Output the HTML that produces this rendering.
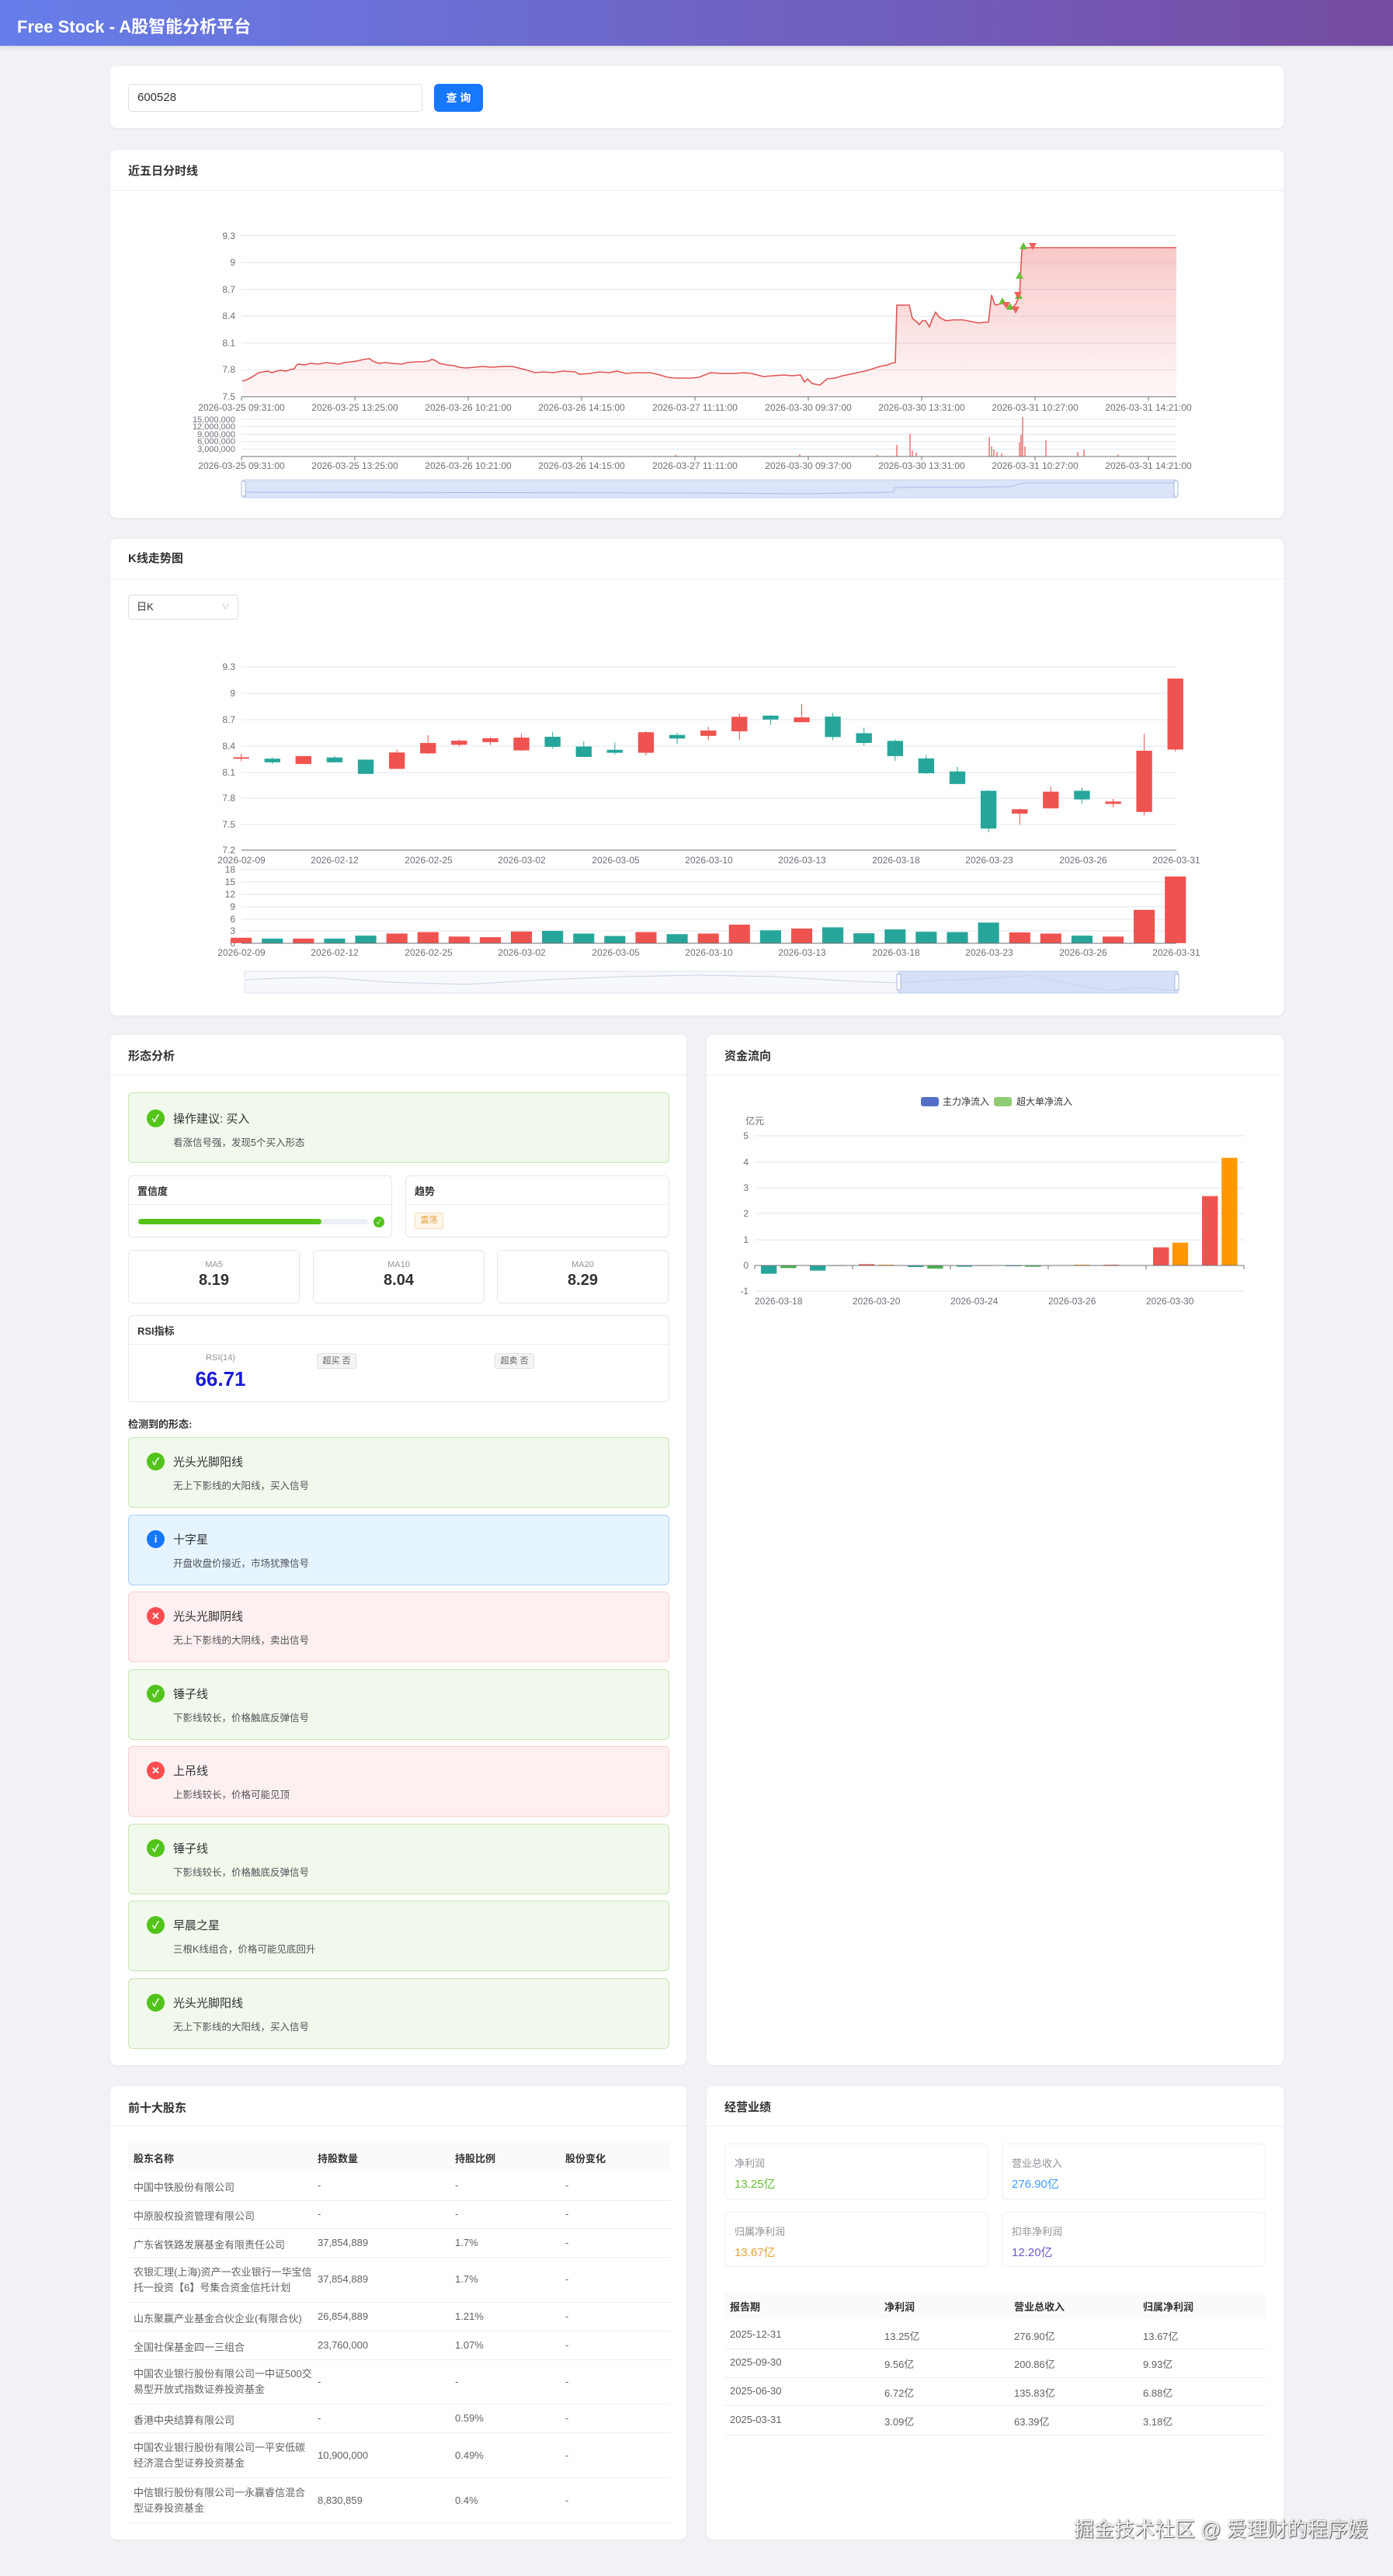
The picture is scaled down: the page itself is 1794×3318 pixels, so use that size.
<!DOCTYPE html>
<html><head><meta charset="utf-8">
<style>
*{box-sizing:border-box;margin:0;padding:0}
body{width:1794px;height:3318px;background:#f0f2f5;position:relative;overflow:hidden;font-family:"Liberation Sans","Noto Sans CJK SC",sans-serif;color:#303133}
.a{position:absolute}
.card{position:absolute;background:#fff;border-radius:8px;box-shadow:0 1px 4px rgba(0,0,0,.05)}
.ct{position:absolute;left:23px;font-size:15px;font-weight:bold;color:#303133}
.dv{position:absolute;left:0;right:0;height:1px;background:#ebeef5}
.box{position:absolute;border:1px solid #e4e7ed;border-radius:6px;background:#fff}
.pat{position:absolute;left:165px;width:697px;height:91px;border-radius:6px;border:1px solid}
.pg{background:#f0f9eb;border-color:#c8e6b4}
.pb{background:#e6f4ff;border-color:#a9d2f7}
.pr{background:#fef0f0;border-color:#f8cfcf}
.ic{position:absolute;left:23px;top:19px;width:23px;height:23px;border-radius:50%;color:#fff;font-size:13px;font-weight:bold;text-align:center;line-height:23px}
.pt{position:absolute;left:57px;top:20px;font-size:15px;color:#303133}
.pd{position:absolute;left:57px;top:51px;font-size:12.5px;color:#505358}
.tb{position:absolute;font-size:13px;color:#606266}
.th{font-weight:bold;color:#303133}
</style></head><body>
<div class="a" style="left:0;top:0;width:1794px;height:59px;background:linear-gradient(90deg,#667eea,#764ba2);box-shadow:0 2px 6px rgba(0,0,0,.12)"></div>
<div class="a" style="left:22px;top:17px;font-size:22px;font-weight:bold;color:#fff">Free Stock - A股智能分析平台</div>

<div class="card" style="left:142px;top:85px;width:1511px;height:80px"></div>
<div class="a" style="left:165px;top:108px;width:379px;height:36px;border:1px solid #dcdfe6;border-radius:5px;font-size:15px;line-height:34px;padding-left:11px;color:#303133">600528</div>
<div class="a" style="left:559px;top:108px;width:63px;height:36px;background:#1677ff;border-radius:6px;color:#fff;font-size:14px;font-weight:bold;text-align:center;line-height:36px">查 询</div>

<div class="card" style="left:142px;top:193px;width:1511px;height:474px"><div class="ct" style="top:16px">近五日分时线</div><div class="dv" style="top:52px"></div></div>
<div class="card" style="left:142px;top:694px;width:1511px;height:614px"><div class="ct" style="top:14px">K线走势图</div><div class="dv" style="top:51px"></div></div>
<div class="a" style="left:165px;top:766px;width:142px;height:32px;border:1px solid #dcdfe6;border-radius:4px;font-size:13px;line-height:30px;padding-left:10px;color:#303133">日K<span style="position:absolute;right:10px;color:#c0c4cc;font-size:11px">∨</span></div>

<div class="card" style="left:142px;top:1333px;width:742px;height:1327px"><div class="ct" style="top:16px">形态分析</div><div class="dv" style="top:51px"></div></div>
<div class="card" style="left:910px;top:1333px;width:743px;height:1327px"><div class="ct" style="top:16px">资金流向</div><div class="dv" style="top:51px"></div></div>

<div class="pat pg" style="top:1407px;height:91px"><div class="ic" style="background:#52c41a;top:21px">✓</div><div class="pt" style="top:22px">操作建议: 买入</div><div class="pd" style="top:53px">看涨信号强，发现5个买入形态</div></div>
<div class="box" style="left:165px;top:1514px;width:340px;height:80px"><div class="a th" style="left:11px;top:9px;font-size:13px">置信度</div><div class="a" style="left:0;right:0;top:36px;height:1px;background:#ebeef5"></div>
<div class="a" style="left:12px;top:55px;width:296px;height:7px;border-radius:4px;background:#ebeef5"></div><div class="a" style="left:12px;top:55px;width:236px;height:7px;border-radius:4px;background:#52c41a"></div><div class="a" style="left:315px;top:52px;width:14px;height:14px;border-radius:50%;background:#52c41a;color:#fff;font-size:9px;text-align:center;line-height:14px">✓</div></div>
<div class="box" style="left:522px;top:1514px;width:340px;height:80px"><div class="a th" style="left:11px;top:9px;font-size:13px">趋势</div><div class="a" style="left:0;right:0;top:36px;height:1px;background:#ebeef5"></div>
<div class="a" style="left:11px;top:47px;width:37px;height:21px;border:1px solid #f5dab1;background:#fdf6ec;border-radius:3px;color:#e6a23c;font-size:11px;text-align:center;line-height:19px">震荡</div></div>
<div class="box" style="left:165px;top:1610px;width:221px;height:69px;text-align:center"><div style="margin-top:12px;font-size:11px;color:#909399">MA5</div><div style="font-size:20px;font-weight:bold;margin-top:3px">8.19</div></div>
<div class="box" style="left:403px;top:1610px;width:221px;height:69px;text-align:center"><div style="margin-top:12px;font-size:11px;color:#909399">MA10</div><div style="font-size:20px;font-weight:bold;margin-top:3px">8.04</div></div>
<div class="box" style="left:640px;top:1610px;width:221px;height:69px;text-align:center"><div style="margin-top:12px;font-size:11px;color:#909399">MA20</div><div style="font-size:20px;font-weight:bold;margin-top:3px">8.29</div></div>
<div class="box" style="left:165px;top:1694px;width:697px;height:112px"><div class="a th" style="left:11px;top:9px;font-size:13px">RSI指标</div><div class="a" style="left:0;right:0;top:36px;height:1px;background:#ebeef5"></div>
<div class="a" style="left:78px;width:80px;top:48px;text-align:center;font-size:11px;color:#909399">RSI(14)</div><div class="a" style="left:68px;width:100px;top:66px;text-align:center;font-size:26px;font-weight:bold;color:#1a1ad6">66.71</div>
<div class="a" style="left:242px;top:48px;width:51px;height:20px;border:1px solid #dcdfe6;background:#f4f4f5;border-radius:3px;font-size:11px;color:#606266;text-align:center;line-height:18px">超买 否</div>
<div class="a" style="left:471px;top:48px;width:51px;height:20px;border:1px solid #dcdfe6;background:#f4f4f5;border-radius:3px;font-size:11px;color:#606266;text-align:center;line-height:18px">超卖 否</div></div>
<div class="a th" style="left:165px;top:1824px;font-size:13px">检测到的形态:</div>

<div class="pat pg" style="top:1851px"><div class="ic" style="background:#52c41a">✓</div><div class="pt">光头光脚阳线</div><div class="pd">无上下影线的大阳线，买入信号</div></div>
<div class="pat pb" style="top:1951px"><div class="ic" style="background:#1677ff">i</div><div class="pt">十字星</div><div class="pd">开盘收盘价接近，市场犹豫信号</div></div>
<div class="pat pr" style="top:2050px"><div class="ic" style="background:#ff4d4f">✕</div><div class="pt">光头光脚阴线</div><div class="pd">无上下影线的大阴线，卖出信号</div></div>
<div class="pat pg" style="top:2150px"><div class="ic" style="background:#52c41a">✓</div><div class="pt">锤子线</div><div class="pd">下影线较长，价格触底反弹信号</div></div>
<div class="pat pr" style="top:2249px"><div class="ic" style="background:#ff4d4f">✕</div><div class="pt">上吊线</div><div class="pd">上影线较长，价格可能见顶</div></div>
<div class="pat pg" style="top:2349px"><div class="ic" style="background:#52c41a">✓</div><div class="pt">锤子线</div><div class="pd">下影线较长，价格触底反弹信号</div></div>
<div class="pat pg" style="top:2448px"><div class="ic" style="background:#52c41a">✓</div><div class="pt">早晨之星</div><div class="pd">三根K线组合，价格可能见底回升</div></div>
<div class="pat pg" style="top:2548px"><div class="ic" style="background:#52c41a">✓</div><div class="pt">光头光脚阳线</div><div class="pd">无上下影线的大阳线，买入信号</div></div>

<div class="card" style="left:142px;top:2687px;width:742px;height:584px"><div class="ct" style="top:17px">前十大股东</div><div class="dv" style="top:51px"></div></div>
<div class="a" style="left:164px;top:2760px;width:700px;height:37px;background:#fafafa"></div>
<div class="a" style="left:164px;top:2834px;width:700px;height:1px;background:#ebeef5"></div>
<div class="a" style="left:164px;top:2870px;width:700px;height:1px;background:#ebeef5"></div>
<div class="a" style="left:164px;top:2907px;width:700px;height:1px;background:#ebeef5"></div>
<div class="a" style="left:164px;top:2965px;width:700px;height:1px;background:#ebeef5"></div>
<div class="a" style="left:164px;top:3002px;width:700px;height:1px;background:#ebeef5"></div>
<div class="a" style="left:164px;top:3039px;width:700px;height:1px;background:#ebeef5"></div>
<div class="a" style="left:164px;top:3096px;width:700px;height:1px;background:#ebeef5"></div>
<div class="a" style="left:164px;top:3133px;width:700px;height:1px;background:#ebeef5"></div>
<div class="a" style="left:164px;top:3191px;width:700px;height:1px;background:#ebeef5"></div>
<div class="a" style="left:164px;top:3249px;width:700px;height:1px;background:#ebeef5"></div>
<div class="tb th" style="left:172px;top:2770px">股东名称</div><div class="tb th" style="left:409px;top:2770px">持股数量</div><div class="tb th" style="left:586px;top:2770px">持股比例</div><div class="tb th" style="left:728px;top:2770px">股份变化</div>
<div class="tb" style="left:172px;top:2807px">中国中铁股份有限公司</div><div class="tb" style="left:409px;top:2807px">-</div><div class="tb" style="left:586px;top:2807px">-</div><div class="tb" style="left:728px;top:2807px">-</div>
<div class="tb" style="left:172px;top:2844px">中原股权投资管理有限公司</div><div class="tb" style="left:409px;top:2844px">-</div><div class="tb" style="left:586px;top:2844px">-</div><div class="tb" style="left:728px;top:2844px">-</div>
<div class="tb" style="left:172px;top:2881px">广东省铁路发展基金有限责任公司</div><div class="tb" style="left:409px;top:2881px">37,854,889</div><div class="tb" style="left:586px;top:2881px">1.7%</div><div class="tb" style="left:728px;top:2881px">-</div>
<div class="tb" style="left:172px;top:2917px;width:230px;line-height:20px">农银汇理(上海)资产一农业银行一华宝信托一投资【6】号集合资金信托计划</div><div class="tb" style="left:409px;top:2928px">37,854,889</div><div class="tb" style="left:586px;top:2928px">1.7%</div><div class="tb" style="left:728px;top:2928px">-</div>
<div class="tb" style="left:172px;top:2976px">山东聚赢产业基金合伙企业(有限合伙)</div><div class="tb" style="left:409px;top:2976px">26,854,889</div><div class="tb" style="left:586px;top:2976px">1.21%</div><div class="tb" style="left:728px;top:2976px">-</div>
<div class="tb" style="left:172px;top:3013px">全国社保基金四一三组合</div><div class="tb" style="left:409px;top:3013px">23,760,000</div><div class="tb" style="left:586px;top:3013px">1.07%</div><div class="tb" style="left:728px;top:3013px">-</div>
<div class="tb" style="left:172px;top:3048px;width:230px;line-height:20px">中国农业银行股份有限公司一中证500交易型开放式指数证券投资基金</div><div class="tb" style="left:409px;top:3060px">-</div><div class="tb" style="left:586px;top:3060px">-</div><div class="tb" style="left:728px;top:3060px">-</div>
<div class="tb" style="left:172px;top:3107px">香港中央结算有限公司</div><div class="tb" style="left:409px;top:3107px">-</div><div class="tb" style="left:586px;top:3107px">0.59%</div><div class="tb" style="left:728px;top:3107px">-</div>
<div class="tb" style="left:172px;top:3143px;width:230px;line-height:20px">中国农业银行股份有限公司一平安低碳经济混合型证券投资基金</div><div class="tb" style="left:409px;top:3155px">10,900,000</div><div class="tb" style="left:586px;top:3155px">0.49%</div><div class="tb" style="left:728px;top:3155px">-</div>
<div class="tb" style="left:172px;top:3201px;width:230px;line-height:20px">中信银行股份有限公司一永赢睿信混合型证券投资基金</div><div class="tb" style="left:409px;top:3213px">8,830,859</div><div class="tb" style="left:586px;top:3213px">0.4%</div><div class="tb" style="left:728px;top:3213px">-</div>

<div class="card" style="left:910px;top:2687px;width:743px;height:584px"><div class="ct" style="top:16px">经营业绩</div><div class="dv" style="top:51px"></div></div>
<div class="box" style="left:933px;top:2761px;width:340px;height:72px;border-color:#eef0f3"><div class="a" style="left:12px;top:14px;font-size:13px;color:#909399">净利润</div><div class="a" style="left:12px;top:40px;font-size:15px;color:#67c23a">13.25亿</div></div>
<div class="box" style="left:1290px;top:2761px;width:340px;height:72px;border-color:#eef0f3"><div class="a" style="left:12px;top:14px;font-size:13px;color:#909399">营业总收入</div><div class="a" style="left:12px;top:40px;font-size:15px;color:#409eff">276.90亿</div></div>
<div class="box" style="left:933px;top:2849px;width:340px;height:71px;border-color:#eef0f3"><div class="a" style="left:12px;top:14px;font-size:13px;color:#909399">归属净利润</div><div class="a" style="left:12px;top:40px;font-size:15px;color:#e6a23c">13.67亿</div></div>
<div class="box" style="left:1290px;top:2849px;width:340px;height:71px;border-color:#eef0f3"><div class="a" style="left:12px;top:14px;font-size:13px;color:#909399">扣非净利润</div><div class="a" style="left:12px;top:40px;font-size:15px;color:#6a5acd">12.20亿</div></div>
<div class="a" style="left:933px;top:2953px;width:697px;height:34px;background:#fafafa"></div>
<div class="a" style="left:933px;top:3025px;width:697px;height:1px;background:#ebeef5"></div>
<div class="a" style="left:933px;top:3062px;width:697px;height:1px;background:#ebeef5"></div>
<div class="a" style="left:933px;top:3098px;width:697px;height:1px;background:#ebeef5"></div>
<div class="a" style="left:933px;top:3136px;width:697px;height:1px;background:#ebeef5"></div>
<div class="tb th" style="left:940px;top:2961px">报告期</div><div class="tb th" style="left:1139px;top:2961px">净利润</div><div class="tb th" style="left:1306px;top:2961px">营业总收入</div><div class="tb th" style="left:1472px;top:2961px">归属净利润</div>
<div class="tb" style="left:940px;top:2999px">2025-12-31</div><div class="tb" style="left:1139px;top:2999px">13.25亿</div><div class="tb" style="left:1306px;top:2999px">276.90亿</div><div class="tb" style="left:1472px;top:2999px">13.67亿</div>
<div class="tb" style="left:940px;top:3035px">2025-09-30</div><div class="tb" style="left:1139px;top:3035px">9.56亿</div><div class="tb" style="left:1306px;top:3035px">200.86亿</div><div class="tb" style="left:1472px;top:3035px">9.93亿</div>
<div class="tb" style="left:940px;top:3072px">2025-06-30</div><div class="tb" style="left:1139px;top:3072px">6.72亿</div><div class="tb" style="left:1306px;top:3072px">135.83亿</div><div class="tb" style="left:1472px;top:3072px">6.88亿</div>
<div class="tb" style="left:940px;top:3109px">2025-03-31</div><div class="tb" style="left:1139px;top:3109px">3.09亿</div><div class="tb" style="left:1306px;top:3109px">63.39亿</div><div class="tb" style="left:1472px;top:3109px">3.18亿</div>

<div class="a" style="left:1383px;top:3238px;font-size:26px;color:#f2f2f2;text-shadow:1px 1px 1px #555,0 0 2px #888;white-space:nowrap">掘金技术社区 @ 爱理财的程序媛</div>

<svg class="a" style="left:0;top:0" width="1794" height="3318" viewBox="0 0 1794 3318" font-family="Liberation Sans, Noto Sans CJK SC, sans-serif">
<defs><linearGradient id="ag" x1="0" y1="0" x2="0" y2="1"><stop offset="0" stop-color="#eb5454" stop-opacity=".32"/><stop offset="1" stop-color="#eb5454" stop-opacity=".04"/></linearGradient></defs>
<g stroke="#e0e6f1" stroke-width="1">
<line x1="311" x2="1515" y1="303.6" y2="303.6"/><line x1="311" x2="1515" y1="338.2" y2="338.2"/><line x1="311" x2="1515" y1="372.7" y2="372.7"/><line x1="311" x2="1515" y1="407.3" y2="407.3"/><line x1="311" x2="1515" y1="441.9" y2="441.9"/><line x1="311" x2="1515" y1="476.4" y2="476.4"/>
<line x1="311" x2="1515" y1="540" y2="540"/><line x1="311" x2="1515" y1="549.6" y2="549.6"/><line x1="311" x2="1515" y1="559.2" y2="559.2"/><line x1="311" x2="1515" y1="568.8" y2="568.8"/><line x1="311" x2="1515" y1="578.4" y2="578.4"/>
</g>
<g font-size="12" fill="#6e7079" text-anchor="end">
<text x="303" y="308">9.3</text><text x="303" y="342">9</text><text x="303" y="377">8.7</text><text x="303" y="411">8.4</text><text x="303" y="446">8.1</text><text x="303" y="480">7.8</text><text x="303" y="515">7.5</text>
</g>
<g font-size="11" fill="#6e7079" text-anchor="end">
<text x="303" y="544">15,000,000</text><text x="303" y="553">12,000,000</text><text x="303" y="563">9,000,000</text><text x="303" y="572">6,000,000</text><text x="303" y="582">3,000,000</text>
</g>
<path d="M312,491 318,489 324,486 327,484 333,480 339,479 345,478 350,480 356,478 362,477 368,478 374,476 379,475 382,470 385,469 392,470 400,468 410,469 420,467 428,468 436,469 444,467 452,466 460,465 468,463 476,462 480,465 488,468 496,467 505,468 517,469 525,467 535,466 545,466 552,465 556,463 560,464 566,468 575,470 585,471 591,473 600,474 612,473 622,472 634,473 646,472 660,472 668,474 676,476 689,480 700,479 712,480 725,478 741,479 746,482 760,481 772,479 784,480 795,478 806,481 818,480 830,480 838,480 850,483 860,486 870,487 878,487 890,487 900,486 915,480 930,481 945,481 958,480 968,481 983,485 995,484 1010,483 1020,484 1031,483 1036,492 1040,488 1046,494 1056,496 1065,488 1075,487 1085,484 1095,482 1104,480 1114,478 1124,475 1133,472 1143,470 1148,468 1153,467 1155,393 1171,393 1175,410 1180,414 1184,418 1188,413 1192,413 1197,421 1201,410 1205,402 1210,409 1218,413 1228,412 1240,412 1250,414 1260,416 1268,415 1273,415 1277,380 1281,392 1284,393 1290,390 1296,394 1303,397 1308,392 1311,385 1313,383 1315,340 1316,323 1318,319 1515,319 L1515,511 L312,511Z" fill="url(#ag)"/>
<polyline fill="none" stroke="#e05555" stroke-width="1.6" points="312,491 318,489 324,486 327,484 333,480 339,479 345,478 350,480 356,478 362,477 368,478 374,476 379,475 382,470 385,469 392,470 400,468 410,469 420,467 428,468 436,469 444,467 452,466 460,465 468,463 476,462 480,465 488,468 496,467 505,468 517,469 525,467 535,466 545,466 552,465 556,463 560,464 566,468 575,470 585,471 591,473 600,474 612,473 622,472 634,473 646,472 660,472 668,474 676,476 689,480 700,479 712,480 725,478 741,479 746,482 760,481 772,479 784,480 795,478 806,481 818,480 830,480 838,480 850,483 860,486 870,487 878,487 890,487 900,486 915,480 930,481 945,481 958,480 968,481 983,485 995,484 1010,483 1020,484 1031,483 1036,492 1040,488 1046,494 1056,496 1065,488 1075,487 1085,484 1095,482 1104,480 1114,478 1124,475 1133,472 1143,470 1148,468 1153,467 1155,393 1171,393 1175,410 1180,414 1184,418 1188,413 1192,413 1197,421 1201,410 1205,402 1210,409 1218,413 1228,412 1240,412 1250,414 1260,416 1268,415 1273,415 1277,380 1281,392 1284,393 1290,390 1296,394 1303,397 1308,392 1311,385 1313,383 1315,340 1316,323 1318,319 1515,319"/>
<g fill="#6bbf3a"><path d="M1318,312 l5,9 h-10z"/><path d="M1313,350 l5,9 h-10z"/><path d="M1312,376 l5,9 h-10z"/><path d="M1291,383 l5,9 h-10z"/><path d="M1301,390 l5,9 h-10z"/></g>
<g fill="#f0605a"><path d="M1330,322 l5,-9 h-10z"/><path d="M1311,385 l5,-9 h-10z"/><path d="M1308,404 l5,-9 h-10z"/><path d="M1296,398 l5,-9 h-10z"/></g>
<g stroke="#6e7079" stroke-width="1"><line x1="311" x2="1515" y1="511" y2="511"/><line x1="311" x2="1515" y1="588" y2="588"/></g>
<g stroke="#6e7079"><line x1="311" x2="311" y1="511" y2="516"/><line x1="457" x2="457" y1="511" y2="516"/><line x1="603" x2="603" y1="511" y2="516"/><line x1="749" x2="749" y1="511" y2="516"/><line x1="895" x2="895" y1="511" y2="516"/><line x1="1041" x2="1041" y1="511" y2="516"/><line x1="1187" x2="1187" y1="511" y2="516"/><line x1="1333" x2="1333" y1="511" y2="516"/><line x1="1479" x2="1479" y1="511" y2="516"/>
<line x1="311" x2="311" y1="588" y2="593"/><line x1="457" x2="457" y1="588" y2="593"/><line x1="603" x2="603" y1="588" y2="593"/><line x1="749" x2="749" y1="588" y2="593"/><line x1="895" x2="895" y1="588" y2="593"/><line x1="1041" x2="1041" y1="588" y2="593"/><line x1="1187" x2="1187" y1="588" y2="593"/><line x1="1333" x2="1333" y1="588" y2="593"/><line x1="1479" x2="1479" y1="588" y2="593"/></g>
<g stroke="#e05555" stroke-width="1.2">
<line x1="1155" x2="1155" y1="588" y2="573"/><line x1="1172" x2="1172" y1="588" y2="559"/><line x1="1175" x2="1175" y1="588" y2="580"/><line x1="1180" x2="1180" y1="588" y2="583"/><line x1="1274" x2="1274" y1="588" y2="563"/><line x1="1277" x2="1277" y1="588" y2="575"/><line x1="1280" x2="1280" y1="588" y2="579"/><line x1="1284" x2="1284" y1="588" y2="582"/><line x1="1290" x2="1290" y1="588" y2="584"/><line x1="1317" x2="1317" y1="588" y2="537"/><line x1="1313" x2="1313" y1="588" y2="570"/><line x1="1315" x2="1315" y1="588" y2="560"/><line x1="1320" x2="1320" y1="588" y2="575"/><line x1="1347" x2="1347" y1="588" y2="567"/><line x1="1396" x2="1396" y1="588" y2="579"/><line x1="1388" x2="1388" y1="588" y2="582"/><line x1="1130" x2="1130" y1="588" y2="586"/><line x1="1440" x2="1440" y1="588" y2="586"/><line x1="870" x2="870" y1="588" y2="586"/><line x1="1030" x2="1030" y1="588" y2="585"/></g>
<g font-size="12" fill="#6e7079" text-anchor="middle">
<text x="311" y="529">2026-03-25 09:31:00</text><text x="457" y="529">2026-03-25 13:25:00</text><text x="603" y="529">2026-03-26 10:21:00</text><text x="749" y="529">2026-03-26 14:15:00</text><text x="895" y="529">2026-03-27 11:11:00</text><text x="1041" y="529">2026-03-30 09:37:00</text><text x="1187" y="529">2026-03-30 13:31:00</text><text x="1333" y="529">2026-03-31 10:27:00</text><text x="1479" y="529">2026-03-31 14:21:00</text>
<text x="311" y="604">2026-03-25 09:31:00</text><text x="457" y="604">2026-03-25 13:25:00</text><text x="603" y="604">2026-03-26 10:21:00</text><text x="749" y="604">2026-03-26 14:15:00</text><text x="895" y="604">2026-03-27 11:11:00</text><text x="1041" y="604">2026-03-30 09:37:00</text><text x="1187" y="604">2026-03-30 13:31:00</text><text x="1333" y="604">2026-03-31 10:27:00</text><text x="1479" y="604">2026-03-31 14:21:00</text>
</g>
<rect x="313" y="618" width="1202" height="23" fill="#dbe4f8" stroke="#c5d2ee"/>
<polyline fill="none" stroke="#a9bde8" stroke-width="1" points="313,634 900,635 1040,636 1150,634 1153,628 1300,627 1318,622 1515,622"/>
<rect x="311" y="620" width="5" height="19" fill="#fff" stroke="#aab8d8"/><rect x="1512" y="620" width="5" height="19" fill="#fff" stroke="#aab8d8"/>

<g stroke="#e0e6f1"><line x1="311" x2="1515" y1="859" y2="859"/><line x1="311" x2="1515" y1="893" y2="893"/><line x1="311" x2="1515" y1="927" y2="927"/><line x1="311" x2="1515" y1="961" y2="961"/><line x1="311" x2="1515" y1="995" y2="995"/><line x1="311" x2="1515" y1="1028" y2="1028"/><line x1="311" x2="1515" y1="1062" y2="1062"/>
<line x1="311" x2="1515" y1="1120" y2="1120"/><line x1="311" x2="1515" y1="1136" y2="1136"/><line x1="311" x2="1515" y1="1152" y2="1152"/><line x1="311" x2="1515" y1="1168" y2="1168"/><line x1="311" x2="1515" y1="1184" y2="1184"/><line x1="311" x2="1515" y1="1199" y2="1199"/></g>
<g font-size="12" fill="#6e7079" text-anchor="end">
<text x="303" y="863">9.3</text><text x="303" y="897">9</text><text x="303" y="931">8.7</text><text x="303" y="965">8.4</text><text x="303" y="999">8.1</text><text x="303" y="1032">7.8</text><text x="303" y="1066">7.5</text><text x="303" y="1099">7.2</text>
<text x="303" y="1124">18</text><text x="303" y="1140">15</text><text x="303" y="1156">12</text><text x="303" y="1172">9</text><text x="303" y="1188">6</text><text x="303" y="1203">3</text><text x="303" y="1219">0</text></g>
<g transform="translate(140,700) scale(0.9694,0.3827)">
<g stroke="#ef5350" fill="#ef5350">
<line vector-effect="non-scaling-stroke" x1="176" x2="176" y1="708" y2="732"/><rect x="166" y="720" width="20" height="4"/>
<line vector-effect="non-scaling-stroke" x1="258.7" x2="258.7" y1="716" y2="742"/><rect x="248.7" y="716" width="20" height="26"/>
<line vector-effect="non-scaling-stroke" x1="382.9" x2="382.9" y1="694" y2="760"/><rect x="372.9" y="704" width="20" height="54"/>
<line vector-effect="non-scaling-stroke" x1="424.2" x2="424.2" y1="645" y2="708"/><rect x="414.2" y="672" width="20" height="34"/>
<line vector-effect="non-scaling-stroke" x1="465.6" x2="465.6" y1="660" y2="684"/><rect x="455.6" y="664" width="20" height="13"/>
<line vector-effect="non-scaling-stroke" x1="507" x2="507" y1="652" y2="678"/><rect x="497" y="656" width="20" height="12"/>
<line vector-effect="non-scaling-stroke" x1="548.3" x2="548.3" y1="640" y2="698"/><rect x="538.3" y="654" width="20" height="42"/>
<line vector-effect="non-scaling-stroke" x1="713.8" x2="713.8" y1="632" y2="714"/><rect x="703.8" y="636" width="20" height="68"/>
<line vector-effect="non-scaling-stroke" x1="796.6" x2="796.6" y1="617" y2="662"/><rect x="786.6" y="630" width="20" height="17"/>
<line vector-effect="non-scaling-stroke" x1="837.9" x2="837.9" y1="572" y2="662"/><rect x="827.9" y="584" width="20" height="48"/>
<line vector-effect="non-scaling-stroke" x1="920.7" x2="920.7" y1="540" y2="603"/><rect x="910.7" y="586" width="20" height="15"/>
<line vector-effect="non-scaling-stroke" x1="1210.3" x2="1210.3" y1="893" y2="947"/><rect x="1200.3" y="895" width="20" height="14"/>
<line vector-effect="non-scaling-stroke" x1="1251.6" x2="1251.6" y1="818" y2="893"/><rect x="1241.6" y="836" width="20" height="55"/>
<line vector-effect="non-scaling-stroke" x1="1334.4" x2="1334.4" y1="860" y2="888"/><rect x="1324.4" y="869" width="20" height="7"/>
<line vector-effect="non-scaling-stroke" x1="1375.7" x2="1375.7" y1="640" y2="915"/><rect x="1365.7" y="698" width="20" height="205"/>
<line vector-effect="non-scaling-stroke" x1="1417.1" x2="1417.1" y1="455" y2="700"/><rect x="1407.1" y="455" width="20" height="238"/>
</g>
<g stroke="#26a69a" fill="#26a69a">
<line vector-effect="non-scaling-stroke" x1="217.4" x2="217.4" y1="720" y2="742"/><rect x="207.4" y="725" width="20" height="11"/>
<line vector-effect="non-scaling-stroke" x1="300.1" x2="300.1" y1="715" y2="738"/><rect x="290.1" y="721" width="20" height="15"/>
<line vector-effect="non-scaling-stroke" x1="341.5" x2="341.5" y1="728" y2="775"/><rect x="331.5" y="728" width="20" height="47"/>
<line vector-effect="non-scaling-stroke" x1="589.7" x2="589.7" y1="634" y2="690"/><rect x="579.7" y="651" width="20" height="33"/>
<line vector-effect="non-scaling-stroke" x1="631.1" x2="631.1" y1="666" y2="718"/><rect x="621.1" y="684" width="20" height="34"/>
<line vector-effect="non-scaling-stroke" x1="672.4" x2="672.4" y1="670" y2="710"/><rect x="662.4" y="695" width="20" height="9"/>
<line vector-effect="non-scaling-stroke" x1="755.2" x2="755.2" y1="638" y2="676"/><rect x="745.2" y="645" width="20" height="11"/>
<line vector-effect="non-scaling-stroke" x1="879.3" x2="879.3" y1="578" y2="610"/><rect x="869.3" y="580" width="20" height="12"/>
<line vector-effect="non-scaling-stroke" x1="962" x2="962" y1="570" y2="662"/><rect x="952" y="583" width="20" height="68"/>
<line vector-effect="non-scaling-stroke" x1="1003.4" x2="1003.4" y1="620" y2="680"/><rect x="993.4" y="639" width="20" height="32"/>
<line vector-effect="non-scaling-stroke" x1="1044.8" x2="1044.8" y1="660" y2="732"/><rect x="1034.8" y="665" width="20" height="50"/>
<line vector-effect="non-scaling-stroke" x1="1086.1" x2="1086.1" y1="713" y2="776"/><rect x="1076.1" y="724" width="20" height="49"/>
<line vector-effect="non-scaling-stroke" x1="1127.5" x2="1127.5" y1="752" y2="809"/><rect x="1117.5" y="768" width="20" height="41"/>
<line vector-effect="non-scaling-stroke" x1="1168.9" x2="1168.9" y1="830" y2="972"/><rect x="1158.9" y="833" width="20" height="126"/>
<line vector-effect="non-scaling-stroke" x1="1293" x2="1293" y1="822" y2="876"/><rect x="1283" y="833" width="20" height="28"/>
</g>
<g fill="#ef5350">
<rect x="162" y="1327" width="28" height="18"/><rect x="244.7" y="1330" width="28" height="15"/><rect x="368.9" y="1313" width="28" height="32"/><rect x="410.2" y="1308" width="28" height="37"/><rect x="451.6" y="1323" width="28" height="22"/><rect x="493" y="1325" width="28" height="20"/><rect x="534.3" y="1306" width="28" height="39"/><rect x="699.8" y="1308" width="28" height="37"/><rect x="782.6" y="1313" width="28" height="32"/><rect x="823.9" y="1283" width="28" height="62"/><rect x="906.7" y="1296" width="28" height="49"/><rect x="1196.3" y="1309" width="28" height="36"/><rect x="1237.6" y="1313" width="28" height="32"/><rect x="1320.4" y="1323" width="28" height="22"/><rect x="1361.7" y="1233" width="28" height="112"/><rect x="1403.1" y="1121" width="28" height="224"/></g>
<g fill="#26a69a">
<rect x="203.4" y="1330" width="28" height="15"/><rect x="286.1" y="1330" width="28" height="15"/><rect x="327.5" y="1320" width="28" height="25"/><rect x="575.7" y="1304" width="28" height="41"/><rect x="617.1" y="1313" width="28" height="32"/><rect x="658.4" y="1321" width="28" height="24"/><rect x="741.2" y="1315" width="28" height="30"/><rect x="865.3" y="1302" width="28" height="43"/><rect x="948" y="1292" width="28" height="53"/><rect x="989.4" y="1312" width="28" height="33"/><rect x="1030.8" y="1299" width="28" height="46"/><rect x="1072.1" y="1307" width="28" height="38"/><rect x="1113.5" y="1308" width="28" height="37"/><rect x="1154.9" y="1276" width="28" height="69"/><rect x="1279" y="1320" width="28" height="25"/></g>
</g>
<g stroke="#6e7079"><line x1="311" x2="1515" y1="1095" y2="1095"/><line x1="311" x2="1515" y1="1215" y2="1215"/></g>
<g font-size="12" fill="#6e7079" text-anchor="middle">
<text x="311" y="1112">2026-02-09</text><text x="431" y="1112">2026-02-12</text><text x="552" y="1112">2026-02-25</text><text x="672" y="1112">2026-03-02</text><text x="793" y="1112">2026-03-05</text><text x="913" y="1112">2026-03-10</text><text x="1033" y="1112">2026-03-13</text><text x="1154" y="1112">2026-03-18</text><text x="1274" y="1112">2026-03-23</text><text x="1395" y="1112">2026-03-26</text><text x="1515" y="1112">2026-03-31</text>
<text x="311" y="1231">2026-02-09</text><text x="431" y="1231">2026-02-12</text><text x="552" y="1231">2026-02-25</text><text x="672" y="1231">2026-03-02</text><text x="793" y="1231">2026-03-05</text><text x="913" y="1231">2026-03-10</text><text x="1033" y="1231">2026-03-13</text><text x="1154" y="1231">2026-03-18</text><text x="1274" y="1231">2026-03-23</text><text x="1395" y="1231">2026-03-26</text><text x="1515" y="1231">2026-03-31</text></g>
<rect x="315" y="1251" width="1202" height="28" fill="#f7f8fb" stroke="#dfe4ef"/>
<rect x="1157" y="1251" width="360" height="28" fill="#d6e1f8" stroke="#b9c8ea"/>
<polyline fill="none" stroke="#c9d3e6" points="316,1262 360,1260 420,1259 500,1265 600,1268 700,1262 800,1258 900,1256 1000,1258 1100,1264 1157,1266 1200,1263 1260,1261 1330,1256 1380,1268 1430,1276 1470,1272 1515,1276"/>
<rect x="1155" y="1255" width="5" height="20" fill="#fff" stroke="#aab8d8"/><rect x="1513" y="1255" width="5" height="20" fill="#fff" stroke="#aab8d8"/>

<rect x="1186" y="1413" width="23" height="12" rx="3" fill="#5470c6"/><text x="1214" y="1423" font-size="12" fill="#333">主力净流入</text>
<rect x="1280" y="1413" width="23" height="12" rx="3" fill="#91cc75"/><text x="1309" y="1423" font-size="12" fill="#333">超大单净流入</text>
<text x="960" y="1448" font-size="12" fill="#6e7079">亿元</text>
<g stroke="#e0e6f1"><line x1="973" x2="1602" y1="1463" y2="1463"/><line x1="973" x2="1602" y1="1497" y2="1497"/><line x1="973" x2="1602" y1="1530" y2="1530"/><line x1="973" x2="1602" y1="1563" y2="1563"/><line x1="973" x2="1602" y1="1597" y2="1597"/><line x1="973" x2="1602" y1="1663" y2="1663"/></g>
<g font-size="12" fill="#6e7079" text-anchor="end"><text x="964" y="1467">5</text><text x="964" y="1501">4</text><text x="964" y="1534">3</text><text x="964" y="1567">2</text><text x="964" y="1601">1</text><text x="964" y="1634">0</text><text x="964" y="1667">-1</text></g>
<g transform="translate(900,1320) scale(0.4847,0.3333)">
<rect x="165" y="930" width="42" height="32" fill="#26a69a"/><rect x="217" y="930" width="42" height="10" fill="#4caf50"/>
<rect x="295" y="930" width="42" height="20" fill="#26a69a"/><rect x="347" y="930" width="42" height="2" fill="#4caf50"/>
<rect x="425" y="925" width="42" height="5" fill="#ef5350"/><rect x="477" y="927" width="42" height="3" fill="#ff9800"/>
<rect x="555" y="930" width="42" height="6" fill="#26a69a"/><rect x="607" y="930" width="42" height="12" fill="#4caf50"/>
<rect x="685" y="930" width="42" height="5" fill="#26a69a"/><rect x="737" y="930" width="42" height="2" fill="#4caf50"/>
<rect x="815" y="930" width="42" height="3" fill="#26a69a"/><rect x="867" y="930" width="42" height="5" fill="#4caf50"/>
<rect x="997" y="927" width="42" height="3" fill="#ff9800"/>
<rect x="1075" y="927" width="42" height="3" fill="#ef5350"/>
<rect x="1207" y="860" width="42" height="70" fill="#ef5350"/><rect x="1258" y="842" width="42" height="88" fill="#ff9800"/>
<rect x="1337" y="662" width="42" height="268" fill="#ef5350"/><rect x="1389" y="514" width="42" height="416" fill="#ff9800"/>
</g>
<g stroke="#6e7079"><line x1="972" x2="1602" y1="1630" y2="1630"/><line x1="972" x2="972" y1="1630" y2="1635"/><line x1="1098" x2="1098" y1="1630" y2="1635"/><line x1="1224" x2="1224" y1="1630" y2="1635"/><line x1="1350" x2="1350" y1="1630" y2="1635"/><line x1="1476" x2="1476" y1="1630" y2="1635"/><line x1="1602" x2="1602" y1="1630" y2="1635"/></g>
<g font-size="12" fill="#6e7079"><text x="972" y="1680">2026-03-18</text><text x="1098" y="1680">2026-03-20</text><text x="1224" y="1680">2026-03-24</text><text x="1350" y="1680">2026-03-26</text><text x="1476" y="1680">2026-03-30</text></g>
</svg>
</body></html>
